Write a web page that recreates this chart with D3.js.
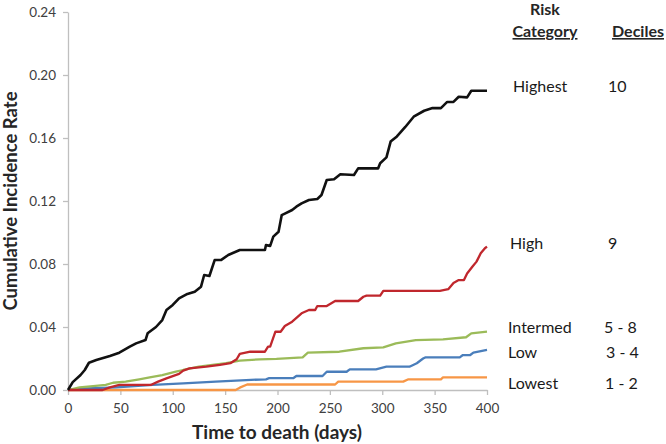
<!DOCTYPE html>
<html>
<head>
<meta charset="utf-8">
<script src="https://cdn.jsdelivr.net/npm/d3@7/dist/d3.min.js"></script>
<style>
  html, body { margin: 0; padding: 0; background: #fff; }
  svg { display: block; }
</style>
</head>
<body>
<script>
// ---- data ----
const xTicks = [0, 50, 100, 150, 200, 250, 300, 350, 400];
const yTicks = [0, 0.04, 0.08, 0.12, 0.16, 0.20, 0.24];

const highestDays = [0, 4.5, 12, 16, 20, 27, 40, 49, 59, 65, 74, 76, 84, 90, 94, 100, 106, 114, 121, 127, 130, 135, 140, 146, 153, 164, 188, 189, 193, 196, 201, 204, 207, 214, 218, 223, 230, 238, 242, 247, 254, 260, 273, 277, 296, 298, 304, 308, 314, 322, 330, 340, 348, 356, 362, 368, 373, 381, 385, 400];
const highestRates = [0, 0.005, 0.0095, 0.0127, 0.0173, 0.019, 0.0216, 0.0237, 0.0275, 0.0296, 0.0317, 0.036, 0.040, 0.0444, 0.0508, 0.054, 0.0582, 0.061, 0.0624, 0.0656, 0.073, 0.0724, 0.0825, 0.0825, 0.0857, 0.0889, 0.0889, 0.092, 0.0915, 0.0974, 0.1005, 0.111, 0.112, 0.1143, 0.1164, 0.1185, 0.1206, 0.1213, 0.1238, 0.1333, 0.1338, 0.137, 0.1365, 0.1407, 0.1407, 0.144, 0.1477, 0.1577, 0.161, 0.167, 0.1735, 0.1773, 0.179, 0.179, 0.1829, 0.1829, 0.1862, 0.1858, 0.190, 0.190];

const highDays = [0, 33, 40, 49, 79, 86, 94, 106, 110, 116, 132, 145, 155, 161, 164, 174, 188, 191, 193, 198, 203, 207, 214, 223, 230, 236, 238, 247, 255, 277, 282, 285, 298, 301, 355, 363, 368, 373, 378, 381, 386, 390, 394, 398, 400];
const highRates = [0, 0, 0.0017, 0.0032, 0.0032, 0.0053, 0.0074, 0.0102, 0.0123, 0.0137, 0.0148, 0.0159, 0.017, 0.0195, 0.0229, 0.0243, 0.0243, 0.0275, 0.0275, 0.037, 0.037, 0.0406, 0.0434, 0.0487, 0.0508, 0.0508, 0.0533, 0.0533, 0.0565, 0.0565, 0.0592, 0.0599, 0.0599, 0.063, 0.063, 0.064, 0.068, 0.0698, 0.0698, 0.074, 0.0783, 0.0815, 0.0868, 0.090, 0.091];

const intermedDays = [0, 11, 24, 36, 43, 55, 68, 78, 90, 103, 110, 125, 138, 151, 164, 183, 199, 224, 229, 259, 282, 301, 313, 332, 358, 380, 385, 400];
const intermedRates = [0, 0.0017, 0.0025, 0.0032, 0.0046, 0.0053, 0.0068, 0.008, 0.0095, 0.0116, 0.0127, 0.0148, 0.0159, 0.017, 0.0186, 0.0195, 0.0198, 0.0207, 0.0237, 0.0243, 0.0265, 0.0271, 0.0296, 0.0317, 0.0322, 0.0335, 0.036, 0.037];

const lowDays = [0, 17, 46, 81, 110, 141, 170, 189, 192, 215, 218, 243, 247, 266, 269, 294, 304, 326, 333, 339, 341, 374, 377, 384, 387, 400];
const lowRates = [0, 0.001, 0.0017, 0.0032, 0.0042, 0.0053, 0.0063, 0.0068, 0.0075, 0.0075, 0.0089, 0.0089, 0.0116, 0.0116, 0.0131, 0.0131, 0.0148, 0.0148, 0.017, 0.020, 0.0207, 0.0207, 0.0222, 0.0222, 0.0237, 0.0254];

const lowestDays = [0, 160, 164, 171, 255, 258, 320, 325, 356, 358, 400];
const lowestRates = [0, 0, 0.0015, 0.0035, 0.0035, 0.0053, 0.0053, 0.0068, 0.0068, 0.008, 0.008];

const categories = ["Highest", "High", "Intermed", "Low", "Lowest"];
const deciles = ["10", "9", "5 - 8", "3 - 4", "1 - 2"];
const colors = ["#111111", "#c0272d", "#9bbb59", "#4a7ebb", "#f79646"];

const seriesDays = [highestDays, highDays, intermedDays, lowDays, lowestDays];
const seriesRates = [highestRates, highRates, intermedRates, lowRates, lowestRates];

// ---- layout ----
const W = 666, H = 444;
const margin = { left: 68, right: 179, top: 12, bottom: 54 };

const svg = d3.select("body").append("svg").attr("width", W).attr("height", H);

const x = d3.scaleLinear().domain([0, 400]).range([margin.left, W - margin.right]);
const y = d3.scaleLinear().domain([0, 0.24]).range([H - margin.bottom, margin.top]);

const axisColor = "#bfbfbf";
const font = "Lato, 'Open Sans', sans-serif";

const xAxis = svg.append("g")
  .attr("transform", `translate(0,${y(0)})`)
  .call(d3.axisBottom(x).tickValues(xTicks).tickSize(5).tickSizeOuter(0).tickPadding(8));
const yAxis = svg.append("g")
  .attr("transform", `translate(${x(0)},0)`)
  .call(d3.axisLeft(y).tickValues(yTicks).tickFormat(d3.format(".2f")).tickSize(5).tickSizeOuter(0).tickPadding(7));

[xAxis, yAxis].forEach(g => {
  g.select(".domain").attr("stroke", axisColor).attr("stroke-width", 1.3);
  g.selectAll(".tick line").attr("stroke", axisColor).attr("stroke-width", 1.3);
  g.selectAll(".tick text").attr("fill", "#404040").style("font-family", font).style("font-size", "13.5px");
});

// ---- lines ----
const line = d3.line().x(d => x(d[0])).y(d => y(d[1]));
const drawOrder = [4, 3, 2, 1, 0];
drawOrder.forEach(i => {
  const pts = seriesDays[i].map((d, k) => [d, seriesRates[i][k]]);
  svg.append("path")
    .datum(pts)
    .attr("fill", "none")
    .attr("stroke", colors[i])
    .attr("stroke-width", i === 0 ? 2.6 : 2.3)
    .attr("stroke-linejoin", "round")
    .attr("d", line);
});

// ---- axis titles ----
svg.append("text")
  .attr("x", 277).attr("y", 439)
  .attr("text-anchor", "middle")
  .style("font-family", font).style("font-weight", "bold").style("font-size", "19px")
  .attr("fill", "#262626")
  .text("Time to death (days)");

svg.append("text")
  .attr("transform", "translate(17,201) rotate(-90)")
  .attr("text-anchor", "middle")
  .style("font-family", font).style("font-weight", "bold").style("font-size", "18.5px")
  .attr("fill", "#262626")
  .text("Cumulative Incidence Rate");

// ---- legend-like labels ----
const hdr = svg.append("g").style("font-family", font).style("font-weight", "bold").style("font-size", "16px").attr("fill", "#262626");
hdr.append("text").attr("x", 545).attr("y", 15).attr("text-anchor", "middle").text("Risk");
hdr.append("text").attr("x", 545).attr("y", 37).attr("text-anchor", "middle").attr("text-decoration", "underline").text("Category");
hdr.append("text").attr("x", 638).attr("y", 37).attr("text-anchor", "middle").attr("text-decoration", "underline").text("Deciles");

const labelY = [92, 249, 333, 358, 389];
const labelX = [513, 510, 508, 508, 508];
const decX = [608, 608, 604, 606, 605];
const lab = svg.append("g").style("font-family", font).style("font-size", "16px").attr("fill", "#1a1a1a");
categories.forEach((c, i) => {
  lab.append("text").attr("x", labelX[i]).attr("y", labelY[i]).text(c);
  lab.append("text").attr("x", decX[i]).attr("y", labelY[i]).text(deciles[i]);
});
</script>
</body>
</html>
